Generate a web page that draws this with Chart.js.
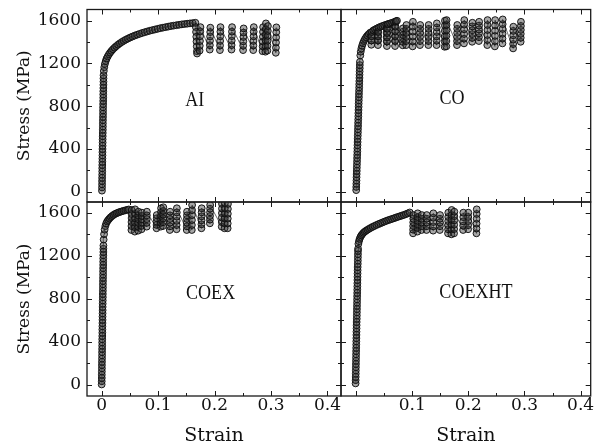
<!DOCTYPE html>
<html>
<head>
<meta charset="utf-8">
<script src="https://cdn.jsdelivr.net/npm/chart.js@4.4.1/dist/chart.umd.min.js"></script>
<style>
  html, body { margin: 0; padding: 0; background: #fff; }
  #fig { position: relative; width: 596px; height: 443px; background: #fff; }
  #fig canvas { position: absolute; left: 0; top: 0; }
</style>
</head>
<body>
<div id="fig">
  <canvas id="pAI" width="596" height="443"></canvas>
  <canvas id="pCO" width="596" height="443"></canvas>
  <canvas id="pCOEX" width="596" height="443"></canvas>
  <canvas id="pCOEXHT" width="596" height="443"></canvas>
</div>
<script>
// ---- axis ticks ----
const strainTicks = [0, 0.1, 0.2, 0.3, 0.4];
const strainTicksNoZero = [0.1, 0.2, 0.3, 0.4];
const strainMinor = [0.05, 0.15, 0.25, 0.35];
const stressTicks = [0, 400, 800, 1200, 1600];
const stressMinor = [200, 600, 1000, 1400];
const xTitle = 'Strain';
const yTitle = 'Stress (MPa)';

// ---- specimen names ----
const specimens = ['AI', 'CO', 'COEX', 'COEXHT'];

// ---- AI: [strain, stress MPa] ----
const aiLoading = [
  [0.0005,10],[0.0006,40],[0.0007,70],[0.0007,100],[0.0008,130],[0.0009,160],[0.0010,190],[0.0010,220],
  [0.0011,250],[0.0012,280],[0.0013,310],[0.0014,340],[0.0014,370],[0.0015,400],[0.0016,430],[0.0017,460],
  [0.0017,490],[0.0018,520],[0.0019,550],[0.0020,580],[0.0021,610],[0.0021,640],[0.0022,670],[0.0023,700],
  [0.0024,730],[0.0024,760],[0.0025,790],[0.0026,820],[0.0027,850],[0.0028,880],[0.0028,910],[0.0029,940],
  [0.0030,970],[0.0031,1000],[0.0032,1030],[0.0032,1060],[0.0033,1090],
  [0.0038,1130],[0.0046,1165],[0.0057,1195],[0.0071,1222],[0.0088,1246],[0.0107,1266],
  [0.0128,1285],[0.0150,1302],[0.0174,1318],[0.0200,1333],[0.0228,1348],[0.0258,1362],[0.0290,1376],
  [0.0323,1389],[0.0357,1401],[0.0392,1412],[0.0428,1423],[0.0466,1433],[0.0505,1443],[0.0545,1452],
  [0.0586,1461],[0.0628,1469],[0.0671,1477],[0.0715,1485],[0.0760,1492],[0.0805,1499],[0.0851,1506],
  [0.0897,1512],[0.0944,1518],[0.0991,1524],[0.1038,1530],[0.1085,1535],[0.1132,1540],[0.1180,1545],
  [0.1228,1550],[0.1276,1554],[0.1324,1558],[0.1372,1562],[0.1420,1566],[0.1468,1569],[0.1516,1572],
  [0.1564,1575],[0.1612,1578],[0.1660,1581]
];
const aiCycles = [
  [0.1668,1540],[0.1672,1495],[0.1676,1450],[0.1680,1405],[0.1684,1360],[0.1688,1315],[0.1690,1293],
  [0.1735,1320],[0.1738,1365],[0.1741,1410],[0.1744,1455],[0.1747,1500],[0.1750,1540],
  [0.1915,1330],[0.1917,1371],[0.1919,1412],[0.1921,1453],[0.1923,1494],[0.1925,1535],
  [0.2095,1325],[0.2097,1368],[0.2099,1411],[0.2101,1454],[0.2103,1497],[0.2105,1540],
  [0.2300,1330],[0.2302,1372],[0.2304,1414],[0.2306,1456],[0.2308,1498],[0.2310,1540],
  [0.2505,1325],[0.2507,1366],[0.2509,1407],[0.2511,1448],[0.2513,1489],[0.2515,1528],
  [0.2685,1325],[0.2687,1368],[0.2689,1411],[0.2691,1454],[0.2693,1497],[0.2695,1540],
  [0.2850,1315],[0.2852,1360],[0.2854,1405],[0.2856,1450],[0.2858,1495],[0.2860,1540],
  [0.2900,1310],[0.2902,1363],[0.2904,1416],[0.2906,1469],[0.2908,1522],[0.2910,1575],
  [0.2935,1320],[0.2937,1366],[0.2939,1412],[0.2941,1458],[0.2943,1504],[0.2945,1550],
  [0.3085,1300],[0.3087,1348],[0.3089,1396],[0.3091,1444],[0.3093,1492],[0.3095,1538]
];

// ---- CO ----
const coLoading = [
  [0.0001,15],[0.0002,45],[0.0004,75],[0.0006,105],[0.0007,135],[0.0009,165],[0.0011,195],[0.0012,225],
  [0.0014,255],[0.0016,285],[0.0017,315],[0.0019,345],[0.0021,375],[0.0022,405],[0.0024,435],[0.0026,465],
  [0.0027,495],[0.0029,525],[0.0031,555],[0.0032,585],[0.0034,615],[0.0035,645],[0.0037,675],[0.0039,705],
  [0.0040,735],[0.0042,765],[0.0044,795],[0.0045,825],[0.0047,855],[0.0049,885],[0.0050,915],[0.0052,945],
  [0.0054,975],[0.0055,1005],[0.0057,1035],[0.0059,1065],[0.0060,1095],[0.0062,1125],[0.0064,1155],
  [0.0065,1185],[0.0067,1215],
  [0.0074,1275],[0.0082,1310],[0.0093,1340],[0.0106,1366],[0.0121,1389],[0.0138,1410],[0.0157,1429],
  [0.0178,1446],[0.0200,1461],[0.0224,1475],[0.0250,1488],
  [0.0266,1455],[0.0268,1415],[0.0270,1375],[0.0274,1415],[0.0276,1455],[0.0278,1495],
  [0.0306,1509],[0.0336,1518],[0.0367,1527],
  [0.0383,1495],[0.0385,1455],[0.0387,1415],[0.0389,1372],[0.0392,1415],[0.0394,1455],[0.0396,1495],[0.0399,1535],
  [0.0432,1543],[0.0466,1550],[0.0500,1557],[0.0535,1563],
  [0.0540,1525],[0.0542,1485],[0.0544,1445],[0.0546,1405],[0.0548,1363],[0.0551,1405],[0.0553,1445],
  [0.0555,1485],[0.0557,1525],[0.0560,1566],
  [0.0570,1569],[0.0605,1575],[0.0640,1581],[0.0675,1588],
  [0.0685,1545],[0.0687,1500],[0.0689,1455],[0.0691,1410],[0.0693,1363],[0.0696,1410],[0.0698,1455],
  [0.0700,1500],[0.0702,1545],[0.0705,1590],
  [0.0710,1595],[0.0728,1600]
];
const coCycles = [
  [0.0830,1370],[0.0831,1402],[0.0832,1434],[0.0833,1466],[0.0834,1498],[0.0835,1529],
  [0.0891,1372],[0.0892,1410],[0.0893,1448],[0.0894,1486],[0.0895,1524],[0.0896,1560],
  [0.1007,1360],[0.1008,1406],[0.1009,1452],[0.1010,1498],[0.1011,1544],[0.1012,1590],
  [0.1137,1372],[0.1138,1410],[0.1139,1448],[0.1140,1486],[0.1141,1524],[0.1142,1560],
  [0.1287,1372],[0.1288,1410],[0.1289,1448],[0.1290,1486],[0.1291,1524],[0.1292,1560],
  [0.1433,1372],[0.1434,1413],[0.1435,1454],[0.1436,1495],[0.1437,1536],[0.1438,1575],
  [0.1577,1356],[0.1578,1406],[0.1579,1456],[0.1580,1506],[0.1581,1556],[0.1582,1600],
  [0.1607,1360],[0.1608,1410],[0.1609,1460],[0.1610,1510],[0.1611,1560],[0.1612,1606],
  [0.1797,1372],[0.1798,1410],[0.1799,1448],[0.1800,1486],[0.1801,1524],[0.1802,1560],
  [0.1922,1388],[0.1923,1432],[0.1924,1476],[0.1925,1520],[0.1926,1564],[0.1927,1606],
  [0.2067,1403],[0.2068,1439],[0.2069,1475],[0.2070,1511],[0.2071,1547],[0.2072,1581],
  [0.2187,1410],[0.2188,1446],[0.2189,1482],[0.2190,1518],[0.2191,1554],[0.2192,1590],
  [0.2337,1372],[0.2338,1419],[0.2339,1466],[0.2340,1513],[0.2341,1560],[0.2342,1606],
  [0.2472,1360],[0.2473,1409],[0.2474,1458],[0.2475,1507],[0.2476,1556],[0.2477,1606],
  [0.2607,1388],[0.2608,1433],[0.2609,1478],[0.2610,1523],[0.2611,1568],[0.2612,1612],
  [0.2797,1341],[0.2798,1382],[0.2799,1423],[0.2800,1464],[0.2801,1505],[0.2802,1544],
  [0.2932,1403],[0.2933,1440],[0.2934,1477],[0.2935,1514],[0.2936,1551],[0.2937,1590]
];

// ---- COEX ----
const coexLoading = [
  [0.0000,5],[0.0001,35],[0.0002,65],[0.0002,95],[0.0003,125],[0.0004,155],[0.0004,185],[0.0005,215],
  [0.0006,245],[0.0007,275],[0.0007,305],[0.0008,335],[0.0009,365],[0.0009,395],[0.0010,425],[0.0011,455],
  [0.0012,485],[0.0012,515],[0.0013,545],[0.0014,575],[0.0015,605],[0.0015,635],[0.0016,665],[0.0017,695],
  [0.0017,725],[0.0018,755],[0.0019,785],[0.0020,815],[0.0020,845],[0.0021,875],[0.0022,905],[0.0022,935],
  [0.0023,965],[0.0024,995],[0.0025,1025],[0.0025,1055],[0.0026,1085],[0.0027,1115],[0.0027,1145],
  [0.0028,1175],[0.0029,1205],[0.0030,1235],[0.0030,1265],[0.0031,1295],
  [0.0035,1350],[0.0042,1400],[0.0052,1442],[0.0065,1475],[0.0080,1500],[0.0097,1518],[0.0116,1532],
  [0.0137,1545],[0.0160,1558],[0.0184,1569],[0.0210,1579],[0.0237,1588],[0.0265,1595],[0.0294,1601],
  [0.0324,1607],[0.0355,1612],[0.0387,1617],[0.0420,1622],[0.0453,1626],[0.0480,1630]
];
const coexCycles = [
  [0.0527,1439],[0.0528,1476],[0.0529,1513],[0.0530,1550],[0.0531,1587],[0.0532,1625],
  [0.0587,1424],[0.0588,1465],[0.0589,1506],[0.0590,1547],[0.0591,1589],[0.0592,1631],
  [0.0647,1433],[0.0648,1468],[0.0649,1503],[0.0650,1538],[0.0651,1573],[0.0652,1609],
  [0.0707,1446],[0.0708,1477],[0.0709,1508],[0.0710,1539],[0.0711,1570],[0.0712,1600],
  [0.0797,1470],[0.0798,1505],[0.0799,1540],[0.0800,1575],[0.0801,1609],
  [0.0972,1455],[0.0973,1486],[0.0974,1517],[0.0975,1548],[0.0976,1578],
  [0.1047,1470],[0.1048,1504],[0.1049,1538],[0.1050,1572],[0.1051,1606],[0.1052,1641],
  [0.1087,1476],[0.1088,1511],[0.1089,1546],[0.1090,1581],[0.1091,1616],[0.1092,1650],
  [0.1207,1439],[0.1208,1473],[0.1209,1507],[0.1210,1541],[0.1211,1575],[0.1212,1609],
  [0.1327,1446],[0.1328,1485],[0.1329,1524],[0.1330,1563],[0.1331,1602],[0.1332,1641],
  [0.1507,1439],[0.1508,1473],[0.1509,1507],[0.1510,1541],[0.1511,1575],[0.1512,1609],
  [0.1597,1439],[0.1598,1485],[0.1599,1531],[0.1600,1577],[0.1601,1623],[0.1602,1671],
  [0.1767,1455],[0.1768,1492],[0.1769,1529],[0.1770,1566],[0.1771,1603],[0.1772,1641],
  [0.1917,1501],[0.1918,1535],[0.1919,1569],[0.1920,1603],[0.1921,1637],[0.1922,1671],
  [0.2127,1470],[0.2128,1512],[0.2129,1554],[0.2130,1596],[0.2131,1638],[0.2132,1681],
  [0.2177,1455],[0.2178,1501],[0.2179,1547],[0.2180,1593],[0.2181,1640],[0.2182,1687],
  [0.2232,1455],[0.2233,1500],[0.2234,1545],[0.2235,1590],[0.2236,1635],[0.2237,1681]
];

// ---- COEXHT ----
const coexhtLoading = [
  [-0.0010,15],[-0.0009,45],[-0.0008,75],[-0.0007,105],[-0.0006,135],[-0.0005,165],[-0.0004,195],[-0.0003,225],
  [-0.0002,255],[-0.0001,285],[0.0000,315],[0.0001,345],[0.0002,375],[0.0003,405],[0.0004,435],[0.0005,465],
  [0.0006,495],[0.0007,525],[0.0008,555],[0.0009,585],[0.0011,615],[0.0012,645],[0.0013,675],[0.0014,705],
  [0.0015,735],[0.0016,765],[0.0017,795],[0.0018,825],[0.0019,855],[0.0020,885],[0.0021,915],[0.0022,945],
  [0.0023,975],[0.0024,1005],[0.0025,1035],[0.0026,1065],[0.0027,1095],[0.0029,1125],[0.0030,1155],
  [0.0031,1185],[0.0032,1215],[0.0033,1245],[0.0034,1265],
  [0.0040,1310],[0.0050,1335],[0.0062,1356],[0.0076,1374],[0.0092,1389],[0.0110,1401],[0.0130,1413],
  [0.0152,1423],[0.0176,1432],[0.0202,1441],[0.0230,1450],[0.0260,1459],[0.0292,1468],[0.0325,1476],
  [0.0360,1485],[0.0395,1493],[0.0430,1501],[0.0465,1508],[0.0500,1516],[0.0535,1523],[0.0570,1530],
  [0.0605,1536],[0.0640,1542],[0.0675,1548],[0.0710,1555],[0.0745,1561],[0.0780,1567],[0.0815,1573],
  [0.0850,1579],[0.0885,1586],[0.0920,1593],[0.0955,1602]
];
const coexhtCycles = [
  [0.1014,1408],[0.1015,1442],[0.1016,1476],[0.1017,1510],[0.1018,1544],[0.1019,1578],
  [0.1092,1424],[0.1093,1458],[0.1094,1492],[0.1095,1526],[0.1096,1560],[0.1097,1594],
  [0.1165,1439],[0.1166,1474],[0.1167,1509],[0.1168,1544],[0.1169,1578],
  [0.1254,1439],[0.1255,1474],[0.1256,1509],[0.1257,1544],[0.1258,1578],
  [0.1372,1433],[0.1373,1473],[0.1374,1513],[0.1375,1553],[0.1376,1594],
  [0.1491,1439],[0.1492,1474],[0.1493,1509],[0.1494,1544],[0.1495,1578],
  [0.1637,1408],[0.1638,1446],[0.1639,1484],[0.1640,1522],[0.1641,1560],[0.1642,1600],
  [0.1697,1399],[0.1698,1444],[0.1699,1489],[0.1700,1534],[0.1701,1579],[0.1702,1625],
  [0.1745,1408],[0.1746,1448],[0.1747,1488],[0.1748,1528],[0.1749,1568],[0.1750,1609],
  [0.1906,1439],[0.1907,1479],[0.1908,1519],[0.1909,1559],[0.1910,1600],
  [0.1995,1446],[0.1996,1484],[0.1997,1522],[0.1998,1560],[0.1999,1600],
  [0.2144,1408],[0.2145,1453],[0.2146,1498],[0.2147,1543],[0.2148,1588],[0.2149,1631]
];

// ---- where each specimen name sits, in data units [strain, stress] ----
const namePos = [[0.165, 858], [0.171, 874], [0.193, 851], [0.2135, 861]];

// ---- page layout and styling ----
const W = 596, H = 443;
const INK = '#111';
const FRAME = '#1a1a1a';
const MARKER = 'rgba(15,15,15,0.95)';
const MARKER_FILL = 'rgba(60,60,60,0.45)';
const LINE = 'rgba(50,50,50,0.9)';
const SERIF = '"DejaVu Serif", "Liberation Serif", serif';
const NAME_FONT = '"Liberation Serif", "Times New Roman", serif';
const Y_AXIS_W = 60;   // room kept left of a panel for stress labels
const X_AXIS_H = 30;   // room kept under a panel for strain labels

const layout = [
  { canvas: 'pAI',     box: { l: 87,  t: 9.5, r: 341,   b: 202 }, x: [-0.026, 0.424], y: [-96, 1705],  xLabels: null,              yLabels: true  },
  { canvas: 'pCO',     box: { l: 341, t: 9.5, r: 590.7, b: 202 }, x: [-0.027, 0.418], y: [-96, 1705],  xLabels: null,              yLabels: false },
  { canvas: 'pCOEX',   box: { l: 87,  t: 202, r: 341,   b: 396 }, x: [-0.026, 0.424], y: [-102, 1699], xLabels: strainTicks,       yLabels: true  },
  { canvas: 'pCOEXHT', box: { l: 341, t: 202, r: 590.7, b: 396 }, x: [-0.027, 0.418], y: [-102, 1699], xLabels: strainTicksNoZero, yLabels: false }
];
const curves = [
  aiLoading.concat(aiCycles),
  coLoading.concat(coCycles),
  coexLoading.concat(coexCycles),
  coexhtLoading.concat(coexhtCycles)
];

const fmtStrain = v => (v === 0 ? '0' : String(v));
const noOverhang = s => { s.paddingLeft = 0; s.paddingRight = 0; s.paddingTop = 0; s.paddingBottom = 0; };

// frame, inward tick marks, specimen name and axis titles
const panelDecor = {
  id: 'panelDecor',
  afterDraw(chart, args, o) {
    const { ctx, chartArea: a } = chart;
    const xs = chart.scales.x, ys = chart.scales.y;
    ctx.save();
    ctx.strokeStyle = FRAME;
    ctx.lineWidth = 1;
    ctx.beginPath();
    const xMark = (v, len) => {
      const p = Math.round(xs.getPixelForValue(v)) + 0.5;
      if (p < a.left || p > a.right) return;
      ctx.moveTo(p, a.bottom); ctx.lineTo(p, a.bottom - len);
      ctx.moveTo(p, a.top); ctx.lineTo(p, a.top + len);
    };
    const yMark = (v, len) => {
      const p = Math.round(ys.getPixelForValue(v)) + 0.5;
      if (p < a.top || p > a.bottom) return;
      ctx.moveTo(a.left, p); ctx.lineTo(a.left + len, p);
      ctx.moveTo(a.right, p); ctx.lineTo(a.right - len, p);
    };
    strainTicks.forEach(v => xMark(v, 5));
    strainMinor.forEach(v => xMark(v, 3));
    stressTicks.forEach(v => yMark(v, 5));
    stressMinor.forEach(v => yMark(v, 3));
    ctx.stroke();
    ctx.lineWidth = 1.3;
    ctx.strokeRect(a.left, a.top, a.right - a.left, a.bottom - a.top);

    // specimen name
    ctx.fillStyle = INK;
    ctx.save();
    ctx.translate(xs.getPixelForValue(o.pos[0]), ys.getPixelForValue(o.pos[1]));
    ctx.scale(0.82, 1);
    ctx.font = '22px ' + NAME_FONT;
    ctx.textAlign = 'center';
    ctx.textBaseline = 'middle';
    ctx.fillText(o.name, 0, 0);
    ctx.restore();

    // axis titles
    ctx.textAlign = 'center';
    ctx.textBaseline = 'alphabetic';
    if (o.xTitle) {
      ctx.font = '19px ' + SERIF;
      ctx.fillText(xTitle, (a.left + a.right) / 2, 441);
    }
    if (o.yTitle) {
      ctx.font = '17px ' + SERIF;
      ctx.save();
      ctx.translate(29, (a.top + a.bottom) / 2);
      ctx.rotate(-Math.PI / 2);
      ctx.fillText(yTitle, 0, 0);
      ctx.restore();
    }
    ctx.restore();
  }
};

layout.forEach((p, i) => {
  const yW = p.yLabels ? Y_AXIS_W : 0;
  const xH = p.xLabels ? X_AXIS_H : 0;
  new Chart(document.getElementById(p.canvas), {
    type: 'scatter',
    data: {
      datasets: [{
        label: specimens[i],
        data: curves[i].map(([x, y]) => ({ x, y })),
        showLine: true,
        borderColor: LINE,
        borderWidth: 0.8,
        pointRadius: 3.4,
        pointHoverRadius: 3.4,
        pointBorderWidth: 1,
        pointBorderColor: MARKER,
        pointBackgroundColor: MARKER_FILL,
        tension: 0
      }]
    },
    options: {
      responsive: false,
      animation: false,
      devicePixelRatio: 1,
      events: [],
      layout: { padding: { left: p.box.l - yW, top: p.box.t, right: W - p.box.r, bottom: H - p.box.b - xH } },
      plugins: {
        legend: { display: false },
        tooltip: { enabled: false },
        panelDecor: { name: specimens[i], pos: namePos[i], xTitle: !!p.xLabels, yTitle: p.yLabels }
      },
      scales: {
        x: {
          type: 'linear', position: 'bottom', min: p.x[0], max: p.x[1],
          grid: { display: false, drawTicks: false }, border: { display: false },
          afterFit: s => { s.height = xH; noOverhang(s); },
          afterBuildTicks: s => { s.ticks = (p.xLabels || strainTicks).map(v => ({ value: v })); },
          ticks: {
            display: !!p.xLabels, padding: -1, color: INK, maxRotation: 0, minRotation: 0, autoSkip: false,
            font: { family: SERIF, size: 17 }, callback: v => fmtStrain(v)
          }
        },
        y: {
          type: 'linear', position: 'left', min: p.y[0], max: p.y[1],
          grid: { display: false, drawTicks: false }, border: { display: false },
          afterFit: s => { s.width = yW; noOverhang(s); },
          afterBuildTicks: s => { s.ticks = stressTicks.map(v => ({ value: v })); },
          ticks: {
            display: p.yLabels, padding: 6, color: INK, autoSkip: false,
            font: { family: SERIF, size: 17 }, callback: v => String(v)
          }
        }
      }
    },
    plugins: [panelDecor]
  });
});
</script>
</body>
</html>
